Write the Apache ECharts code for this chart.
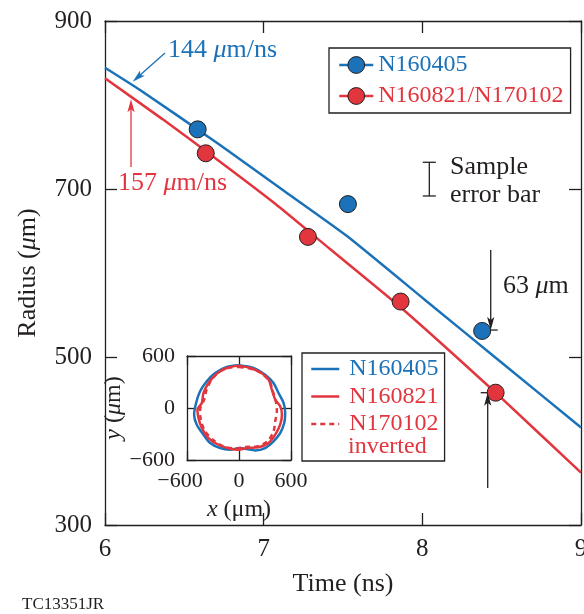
<!DOCTYPE html>
<html>
<head>
<meta charset="utf-8">
<script src="https://cdn.jsdelivr.net/npm/echarts@6/dist/echarts.min.js"></script>
<style>
  html, body { margin: 0; padding: 0; background: #fff; overflow: hidden; }
  #chart { width: 584px; height: 614px; }
</style>
</head>
<body>
<div id="chart"></div>
<script>
const BLUE = '#1b72b9';
const RED = '#e2363f';
const INK = '#231f20';
const FONT = '"Liberation Serif", "Times New Roman", serif';

// Axis ticks
const timeTicks = [6, 7, 8, 9];            // ns
const radiusTicks = [300, 500, 700, 900];  // μm
const insetTicks = [-600, 0, 600];         // μm

// Measured shell radius
const n160405Time = [6.584, 7.531, 8.377];
const n160405Radius = [771, 682, 531];
const n160821Time = [6.635, 7.279, 7.863, 8.462];
const n160821Radius = [742.5, 643, 566, 457.5];

// Simulated trajectories
const simBlueTime = [6.000, 6.221, 6.725, 7.125, 7.525, 8.017, 8.489, 9.000];
const simBlueRadius = [844.4, 817.9, 752.4, 698.2, 644.0, 567.9, 494.9, 416.1];
const simRedTime = [6.000, 6.362, 6.725, 7.071, 7.418, 7.859, 8.462, 9.000];
const simRedRadius = [831.8, 783.2, 732.5, 682.7, 628.6, 559.9, 457.5, 362.3];

// Typical measurement uncertainty
const errTime = [8.044];
const errLow = [691.7];
const errHigh = [731.8];

// Shell contours (x, y in μm)
const shellBlueX = [-2, 167, 302, 398, 456, 514, 533, 522, 475, 398, 302, 187, 90, -2, -102, -218, -333, -410, -487, -518, -495, -449, -372, -275, -141];
const shellBlueY = [493, 462, 385, 289, 173, 58, -58, -173, -289, -385, -462, -489, -474, -462, -481, -462, -404, -308, -193, -77, 58, 193, 308, 404, 474];
const shellRedX = [-2, 129, 244, 341, 379, 418, 475, 495, 475, 418, 341, 225, 90, -2, -102, -237, -352, -429, -468, -479, -429, -410, -352, -256, -141];
const shellRedY = [489, 462, 412, 327, 212, 96, 19, -77, -193, -308, -404, -454, -462, -481, -470, -424, -347, -231, -116, -19, 58, 173, 289, 397, 462];
const shellInvX = [-2, 148, 264, 352, 391, 429, 437, 418, 398, 329, 206, 71, -25, -179, -294, -391, -441, -449, -402, -372, -314, -218, -102];
const shellInvY = [474, 450, 397, 308, 193, 58, -38, -154, -270, -385, -443, -450, -466, -443, -373, -270, -135, -19, 96, 219, 327, 424, 466];

const zip = (a, b) => a.map((v, i) => [v, b[i]]);
const loop = (a, b) => { const p = zip(a, b); p.push(p[0]); return p; };

const axisLine = { show: true, onZero: false, lineStyle: { color: INK, width: 1.3 } };
const tick = len => ({ show: true, inside: true, length: len, lineStyle: { color: INK, width: 1.3 } });
const noSplit = { show: false };

function valueAxis(grid, ticks, pos, extra) {
  return Object.assign({
    gridIndex: grid, type: 'value', position: pos,
    min: ticks[0], max: ticks[ticks.length - 1], interval: ticks[1] - ticks[0],
    axisLine: axisLine, splitLine: noSplit
  }, extra);
}

const mainLabel = { fontSize: 25, color: INK, fontFamily: FONT };
const insetLabelFmt = v => v < 0 ? '{n|\u2212' + Math.abs(v) + '}' : String(v);

const chart = echarts.init(document.getElementById('chart'));

chart.setOption({
  animation: false,
  backgroundColor: '#fff',
  textStyle: { fontFamily: FONT },
  grid: [
    { left: 105, top: 21, width: 476, height: 504, containLabel: false, outerBoundsMode: 'none' },
    { left: 187, top: 356, width: 104, height: 104, containLabel: false, outerBoundsMode: 'none' }
  ],
  xAxis: [
    valueAxis(0, timeTicks, 'bottom', {
      axisTick: tick(12), axisLabel: Object.assign({ margin: 12 }, mainLabel),
      name: 'Time (ns)', nameLocation: 'middle', nameGap: 46,
      nameTextStyle: { fontSize: 26, color: INK, fontFamily: FONT }
    }),
    valueAxis(0, timeTicks, 'top', { axisTick: tick(12), axisLabel: { show: false } }),
    valueAxis(1, insetTicks, 'bottom', {
      axisTick: tick(9),
      axisLabel: { margin: 10, fontSize: 22, color: INK, fontFamily: FONT, formatter: insetLabelFmt,
        rich: { n: { fontSize: 22, color: INK, fontFamily: FONT, padding: [0, 14, 0, 0] } } },
      name: '{i|x} (\u03bcm)', nameLocation: 'middle', nameGap: 38,
      nameTextStyle: { fontSize: 24, color: INK, fontFamily: FONT,
        rich: { i: { fontSize: 24, fontStyle: 'italic', color: INK, fontFamily: FONT } } }
    }),
    valueAxis(1, insetTicks, 'top', { axisTick: tick(9), axisLabel: { show: false } })
  ],
  yAxis: [
    valueAxis(0, radiusTicks, 'left', {
      axisTick: tick(12), axisLabel: Object.assign({ margin: 13 }, mainLabel),
      name: 'Radius ({i|\u03bc}m)', nameLocation: 'middle', nameGap: 64,
      nameTextStyle: { fontSize: 26, color: INK, fontFamily: FONT,
        rich: { i: { fontSize: 26, fontStyle: 'italic', color: INK, fontFamily: FONT } } }
    }),
    valueAxis(0, radiusTicks, 'right', { axisTick: tick(12), axisLabel: { show: false } }),
    valueAxis(1, insetTicks, 'left', {
      axisTick: tick(9),
      axisLabel: { margin: 12, fontSize: 22, color: INK, fontFamily: FONT, formatter: v => v < 0 ? '\u2212' + Math.abs(v) : String(v) },
      name: '{i|y} ({i|\u03bc}m)', nameLocation: 'middle', nameGap: 54,
      nameTextStyle: { fontSize: 24, color: INK, fontFamily: FONT,
        rich: { i: { fontSize: 24, fontStyle: 'italic', color: INK, fontFamily: FONT } } }
    }),
    valueAxis(1, insetTicks, 'right', { axisTick: tick(9), axisLabel: { show: false } })
  ],
  legend: [
    {
      left: 329, top: 48, orient: 'vertical', selectedMode: false,
      padding: [5, 7, 5, 9], itemWidth: 34, itemHeight: 21, itemGap: 7,
      borderColor: INK, borderWidth: 1.3, borderRadius: 0, backgroundColor: '#fff',
      lineStyle: { width: 2.5, opacity: 1 },
      itemStyle: { borderColor: INK, borderWidth: 1 },
      textStyle: { fontSize: 24, lineHeight: 21, fontFamily: FONT },
      data: [
        { name: 'N160405', textStyle: { color: BLUE } },
        { name: 'N160821/N170102', textStyle: { color: RED } }
      ]
    },
    {
      left: 302, top: 353, orient: 'vertical', selectedMode: false,
      padding: [4, 6, 25, 8], itemWidth: 28, itemHeight: 24, itemGap: 3.5,
      borderColor: INK, borderWidth: 1.3, borderRadius: 0,
      itemStyle: { opacity: 0 },
      lineStyle: { width: 2.5 },
      textStyle: { fontSize: 24, lineHeight: 24, fontFamily: FONT, padding: [0, 0, 0, 5] },
      formatter: name => name.replace(' shell', ''),
      data: [
        { name: 'N160405 shell', textStyle: { color: BLUE } },
        { name: 'N160821 shell', textStyle: { color: RED } },
        { name: 'N170102 shell', textStyle: { color: RED } }
      ]
    }
  ],
  series: [
    {
      name: 'N160405', type: 'line', xAxisIndex: 0, yAxisIndex: 0,
      data: zip(simBlueTime, simBlueRadius), symbol: 'circle', showSymbol: false, smooth: 0.15,
      itemStyle: { color: BLUE, borderColor: INK, borderWidth: 1 },
      lineStyle: { color: BLUE, width: 2.5 }, z: 2
    },
    {
      name: 'N160821/N170102', type: 'line', xAxisIndex: 0, yAxisIndex: 0,
      data: zip(simRedTime, simRedRadius), symbol: 'circle', showSymbol: false, smooth: 0.15,
      itemStyle: { color: RED, borderColor: INK, borderWidth: 1 },
      lineStyle: { color: RED, width: 2.5 }, z: 2
    },
    {
      name: 'N160405 measured', type: 'scatter', xAxisIndex: 0, yAxisIndex: 0,
      data: zip(n160405Time, n160405Radius), symbol: 'circle', symbolSize: 17,
      itemStyle: { color: BLUE, borderColor: INK, borderWidth: 1, opacity: 1 }, z: 4
    },
    {
      name: 'N160821/N170102 measured', type: 'scatter', xAxisIndex: 0, yAxisIndex: 0,
      data: zip(n160821Time, n160821Radius), symbol: 'circle', symbolSize: 17,
      itemStyle: { color: RED, borderColor: INK, borderWidth: 1, opacity: 1 }, z: 4
    },
    {
      name: 'Sample error bar', type: 'custom', xAxisIndex: 0, yAxisIndex: 0,
      data: errTime.map((t, i) => [t, errLow[i], errHigh[i]]),
      encode: { x: 0, y: [1, 2] },
      renderItem: (params, api) => {
        const lo = api.coord([api.value(0), api.value(1)]);
        const hi = api.coord([api.value(0), api.value(2)]);
        const w = 6.5, st = { stroke: INK, lineWidth: 1.3 };
        return {
          type: 'group', children: [
            { type: 'line', shape: { x1: lo[0], y1: lo[1], x2: hi[0], y2: hi[1] }, style: st },
            { type: 'line', shape: { x1: lo[0] - w, y1: lo[1], x2: lo[0] + w, y2: lo[1] }, style: st },
            { type: 'line', shape: { x1: hi[0] - w, y1: hi[1], x2: hi[0] + w, y2: hi[1] }, style: st }
          ]
        };
      }
    },
    {
      name: 'N160405 shell', type: 'line', xAxisIndex: 2, yAxisIndex: 2,
      data: loop(shellBlueX, shellBlueY), symbol: 'none', smooth: 0.3,
      itemStyle: { color: BLUE }, lineStyle: { color: BLUE, width: 2.5 }, z: 3
    },
    {
      name: 'N160821 shell', type: 'line', xAxisIndex: 2, yAxisIndex: 2,
      data: loop(shellRedX, shellRedY), symbol: 'none', smooth: 0.3,
      itemStyle: { color: RED }, lineStyle: { color: RED, width: 2.5 }, z: 4
    },
    {
      name: 'N170102 shell', type: 'line', xAxisIndex: 2, yAxisIndex: 2,
      data: loop(shellInvX, shellInvY), symbol: 'none', smooth: 0.3,
      itemStyle: { color: RED }, lineStyle: { color: RED, width: 2.5, type: [5, 4] }, z: 4
    }
  ]
});

// Annotation arrows, anchored in (time, radius) coordinates
const arrows = [
  { from: [6.378, 861.9], to: [6.1746, 827.7], color: BLUE, bar: false },
  { from: [6.1639, 726.2], to: [6.1639, 806.8], color: RED, bar: false },
  { from: [8.431, 627.4], to: [8.431, 532.1], color: INK, bar: true },
  { from: [8.412, 344.0], to: [8.412, 457.5], color: INK, bar: true }
];

const px = p => chart.convertToPixel({ xAxisIndex: 0, yAxisIndex: 0 }, p);
const graphics = [];
arrows.forEach(a => {
  const s = px(a.from), e = px(a.to);
  const dx = e[0] - s[0], dy = e[1] - s[1];
  const len = Math.hypot(dx, dy), ux = dx / len, uy = dy / len;
  const nx = -uy, ny = ux, hl = 13, hw = 3.6;
  const bx = e[0] - ux * hl, by = e[1] - uy * hl;
  graphics.push({ type: 'line', z: 10, shape: { x1: s[0], y1: s[1], x2: bx + ux * 3, y2: by + uy * 3 },
    style: { stroke: a.color, lineWidth: 1.3 } });
  graphics.push({ type: 'polygon', z: 10, shape: { points: [
    [e[0], e[1]], [bx + nx * hw, by + ny * hw], [e[0] - ux * (hl - 3), e[1] - uy * (hl - 3)], [bx - nx * hw, by - ny * hw]
  ] }, style: { fill: a.color } });
  if (a.bar) {
    graphics.push({ type: 'line', z: 3, shape: { x1: e[0] - 7, y1: e[1], x2: e[0] + 7, y2: e[1] },
      style: { stroke: INK, lineWidth: 1.3 } });
  }
});

const txt = (x, y, text, color, size, rich) => ({
  type: 'text', left: x, top: y - size / 2, z: 11,
  style: { text: text, fill: color, font: size + 'px ' + FONT, rich: rich || {} }
});
const italicMu = c => ({ i: { fontStyle: 'italic', fontSize: 26, fill: c, fontFamily: FONT } });

graphics.push(txt(168, 50, '144 {i|\u03bc}m/ns', BLUE, 26, italicMu(BLUE)));
graphics.push(txt(118, 183, '157 {i|\u03bc}m/ns', RED, 26, italicMu(RED)));
graphics.push(txt(450, 167, 'Sample', INK, 26));
graphics.push(txt(450, 195, 'error bar', INK, 26));
graphics.push(txt(503, 286, '63 {i|\u03bc}m', INK, 26, italicMu(INK)));
graphics.push(txt(348, 447, 'inverted', RED, 24));
graphics.push(txt(22, 605, 'TC13351JR', INK, 17));

chart.setOption({ graphic: graphics });
</script>
</body>
</html>
